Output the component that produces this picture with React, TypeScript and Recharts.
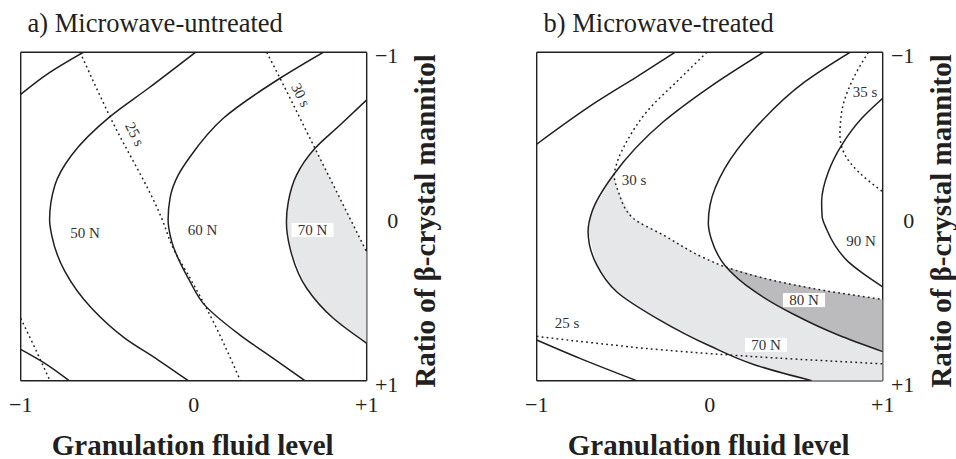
import React from 'react';
import { ComposedChart, XAxis, YAxis, Scatter, Label, Curve } from 'recharts';

type Pt = { x: number; y: number };
type Tag = { x: number; y: number; text: string };

// ---------- a) Microwave-untreated ----------
const untreated40NUpper: Pt[] = [
  { x: -1, y: -0.744 }, { x: -0.84, y: -0.872 }, { x: -0.638, y: -1 },
].reverse();
const untreated40NLower: Pt[] = [
  { x: -1, y: 0.809 }, { x: -0.86, y: 0.894 }, { x: -0.72, y: 1 },
];
const untreated50N: Pt[] = [
  { x: 0.01, y: -1 }, { x: -0.262, y: -0.781 }, { x: -0.484, y: -0.608 }, { x: -0.705, y: -0.375 },
  { x: -0.802, y: -0.192 }, { x: -0.833, y: 0.02 }, { x: -0.821, y: 0.113 }, { x: -0.744, y: 0.336 },
  { x: -0.59, y: 0.559 }, { x: -0.397, y: 0.742 }, { x: -0.205, y: 0.874 }, { x: -0.031, y: 1 },
];
const untreated60N: Pt[] = [
  { x: 0.749, y: -1 }, { x: 0.499, y: -0.842 }, { x: 0.171, y: -0.598 }, { x: -0.021, y: -0.364 },
  { x: -0.089, y: -0.253 }, { x: -0.137, y: -0.111 }, { x: -0.148, y: 0.02 }, { x: -0.127, y: 0.153 },
  { x: -0.021, y: 0.397 }, { x: 0.055, y: 0.529 }, { x: 0.268, y: 0.722 }, { x: 0.46, y: 0.864 },
  { x: 0.643, y: 1 },
];
const untreated70N: Pt[] = [
  { x: 1, y: -0.71 }, { x: 0.846, y: -0.557 }, { x: 0.701, y: -0.415 }, { x: 0.595, y: -0.253 },
  { x: 0.547, y: -0.09 }, { x: 0.536, y: 0.034 }, { x: 0.557, y: 0.194 }, { x: 0.653, y: 0.437 },
  { x: 0.807, y: 0.62 }, { x: 1, y: 0.772 },
];
const untreated20s: Pt[] = [
  { x: -1, y: 0.62 }, { x: -0.917, y: 0.803 }, { x: -0.831, y: 1 },
];
const untreated25s: Pt[] = [
  { x: -0.657, y: -1 }, { x: -0.484, y: -0.608 }, { x: -0.185, y: 0.011 }, { x: -0.118, y: 0.194 },
  { x: -0.021, y: 0.376 }, { x: 0.094, y: 0.6 }, { x: 0.27, y: 1 },
];
const untreated30s: Pt[] = [
  { x: 0.422, y: -1 }, { x: 0.499, y: -0.842 }, { x: 0.701, y: -0.415 }, { x: 0.903, y: 0.011 },
  { x: 1, y: 0.216 },
];
const untreatedLightRegion: Pt[] = [
  { x: 0.701, y: -0.415 }, { x: 0.595, y: -0.253 }, { x: 0.547, y: -0.09 }, { x: 0.536, y: 0.034 },
  { x: 0.557, y: 0.194 }, { x: 0.653, y: 0.437 }, { x: 0.807, y: 0.62 }, { x: 1, y: 0.772 },
  { x: 1, y: 0.216 }, { x: 0.903, y: 0.011 }, { x: 0.701, y: -0.415 },
];
const untreatedTags: Tag[] = [
  { x: -0.628, y: 0.097, text: '50 N' },
  { x: 0.051, y: 0.082, text: '60 N' },
  { x: 0.687, y: 0.082, text: '70 N' },
  { x: -0.339, y: -0.502, text: '25 s' },
  { x: 0.62, y: -0.74, text: '30 s' },
];

// ---------- b) Microwave-treated ----------
const treated60NUpper: Pt[] = [
  { x: -0.201, y: -1 }, { x: -0.422, y: -0.851 }, { x: -0.653, y: -0.699 }, { x: -1, y: -0.44 },
];
const treated60NLower: Pt[] = [
  { x: -1, y: 0.752 }, { x: -0.75, y: 0.864 }, { x: -0.422, y: 1 },
];
const treated70N: Pt[] = [
  { x: 0.31, y: -1 }, { x: 0.002, y: -0.79 }, { x: -0.268, y: -0.577 }, { x: -0.557, y: -0.253 },
  { x: -0.68, y: -0.03 }, { x: -0.703, y: 0.09 }, { x: -0.653, y: 0.295 }, { x: -0.538, y: 0.458 },
  { x: -0.306, y: 0.62 }, { x: 0.002, y: 0.789 }, { x: 0.262, y: 0.904 }, { x: 0.59, y: 1 },
];
const treated80N: Pt[] = [
  { x: 0.811, y: -1 }, { x: 0.551, y: -0.821 }, { x: 0.262, y: -0.537 }, { x: 0.088, y: -0.294 },
  { x: 0.002, y: -0.07 }, { x: -0.008, y: 0.04 }, { x: 0.01, y: 0.14 }, { x: 0.088, y: 0.298 },
  { x: 0.262, y: 0.458 }, { x: 0.493, y: 0.6 }, { x: 0.743, y: 0.722 }, { x: 1, y: 0.823 },
];
const treated90N: Pt[] = [
  { x: 1, y: -0.72 }, { x: 0.879, y: -0.598 }, { x: 0.763, y: -0.435 }, { x: 0.686, y: -0.273 },
  { x: 0.647, y: -0.09 }, { x: 0.65, y: 0.0 }, { x: 0.675, y: 0.076 }, { x: 0.723, y: 0.174 },
  { x: 0.8, y: 0.275 }, { x: 0.898, y: 0.356 }, { x: 1, y: 0.429 },
];
const treated25s: Pt[] = [
  { x: -1, y: 0.73 }, { x: -0.653, y: 0.772 }, { x: -0.268, y: 0.813 }, { x: 0.358, y: 0.86 },
  { x: 1, y: 0.897 },
];
const treated30s: Pt[] = [
  { x: -0.016, y: -1 }, { x: -0.191, y: -0.821 }, { x: -0.364, y: -0.638 }, { x: -0.48, y: -0.456 },
  { x: -0.535, y: -0.33 }, { x: -0.552, y: -0.25 }, { x: -0.528, y: -0.151 }, { x: -0.442, y: 0.011 },
  { x: -0.268, y: 0.113 }, { x: -0.027, y: 0.255 }, { x: 0.088, y: 0.306 }, { x: 0.358, y: 0.387 },
  { x: 0.647, y: 0.448 }, { x: 1, y: 0.505 },
];
const treated35s: Pt[] = [
  { x: 0.917, y: -1 }, { x: 0.821, y: -0.821 }, { x: 0.763, y: -0.638 }, { x: 0.753, y: -0.496 },
  { x: 0.782, y: -0.375 }, { x: 0.859, y: -0.273 }, { x: 1, y: -0.151 },
];
const treatedLightRegion: Pt[] = [
  { x: -0.552, y: -0.25 }, { x: -0.528, y: -0.151 }, { x: -0.442, y: 0.011 }, { x: -0.268, y: 0.113 },
  { x: -0.027, y: 0.255 }, { x: 0.088, y: 0.306 }, { x: 0.262, y: 0.458 }, { x: 0.493, y: 0.6 },
  { x: 0.743, y: 0.722 }, { x: 1, y: 0.823 }, { x: 1, y: 1 }, { x: 0.59, y: 1 },
  { x: 0.262, y: 0.904 }, { x: 0.002, y: 0.789 }, { x: -0.306, y: 0.62 }, { x: -0.538, y: 0.458 },
  { x: -0.653, y: 0.295 }, { x: -0.703, y: 0.09 }, { x: -0.68, y: -0.03 }, { x: -0.557, y: -0.253 },
];
const treatedDarkRegion: Pt[] = [
  { x: 0.088, y: 0.306 }, { x: 0.358, y: 0.387 }, { x: 0.647, y: 0.448 }, { x: 1, y: 0.505 },
  { x: 1, y: 0.823 }, { x: 0.743, y: 0.722 }, { x: 0.493, y: 0.6 }, { x: 0.262, y: 0.458 },
  { x: 0.088, y: 0.306 },
];
const treatedTags: Tag[] = [
  { x: -0.438, y: -0.222, text: '30 s' },
  { x: 0.898, y: -0.76, text: '35 s' },
  { x: 0.875, y: 0.149, text: '90 N' },
  { x: 0.545, y: 0.509, text: '80 N' },
  { x: 0.325, y: 0.783, text: '70 N' },
  { x: -0.825, y: 0.646, text: '25 s' },
];

// ---------- axes ----------
const outerTicks = [-1, 0, 1];
const innerTicks = [-0.5, 0, 0.5];
const tickText: Record<string, string> = { '-1': '\u22121', '0': '0', '1': '+1' };
const xAxisTitle = 'Granulation fluid level';
const yAxisTitle = 'Ratio of \u03b2-crystal mannitol';

// ---------- styles ----------
const FONT = '"Liberation Serif", "Times New Roman", Times, serif';
const INK = '#231f20';
const LIGHT = '#e6e7e9';
const DARK = '#bbbbbd';
const boxedTags = ['a:70 N', 'b:80 N', 'b:70 N'];
const tagAngles: Record<string, number> = { 'a:25 s': 63, 'a:30 s': 63 };

const PLOT_LEFT = 20.7;
const PLOT_TOP = 52.3;
const PLOT_W = 346;
const PLOT_H = 328.4;
const Y_AXIS_W = 60;
const X_AXIS_H = 40;
const CHART_H = 459;

type PanelCfg = {
  key: string;
  title: string;
  lights: Pt[][];
  darks: Pt[][];
  solids: Pt[][];
  dotted: Pt[][];
  tags: Tag[];
};

const panels: PanelCfg[] = [
  {
    key: 'a',
    title: 'a) Microwave-untreated',
    lights: [untreatedLightRegion],
    darks: [],
    solids: [untreated40NUpper, untreated40NLower, untreated50N, untreated60N, untreated70N],
    dotted: [untreated20s, untreated25s, untreated30s],
    tags: untreatedTags,
  },
  {
    key: 'b',
    title: 'b) Microwave-treated',
    lights: [treatedLightRegion],
    darks: [treatedDarkRegion],
    solids: [treated60NUpper, treated60NLower, treated70N, treated80N, treated90N],
    dotted: [treated25s, treated30s, treated35s],
    tags: treatedTags,
  },
];

const EmptyShape = () => <g />;

// Contour lines are single-valued in y, so a monotone spline along y keeps them smooth.
const sortByPixelY = (pts: any[]) => [...pts].sort((a, b) => a.y - b.y);

const fillLine = (color: string) => (p: any) => (
  <Curve points={p.points} type="linear" fill={color} stroke="none" />
);
const solidLine = (p: any) => (
  <Curve points={sortByPixelY(p.points)} type="monotoneY" fill="none" stroke={INK} strokeWidth={1.5} />
);
const dottedLine = (p: any) => (
  <Curve
    points={sortByPixelY(p.points)}
    type="monotoneY"
    fill="none"
    stroke={INK}
    strokeWidth={1.5}
    strokeDasharray="1.8 3.2"
  />
);

const renderXTick = (props: any) => {
  const { x, y, payload } = props;
  return (
    <text x={x} y={y + 31.3} textAnchor="middle" fontFamily={FONT} fontSize={22} fill={INK}>
      {tickText[String(payload.value)]}
    </text>
  );
};

const renderYTick = (props: any) => {
  const { x, y, payload } = props;
  return (
    <text x={x + 31.6} y={y + 11} textAnchor="end" fontFamily={FONT} fontSize={22} fill={INK}>
      {tickText[String(payload.value)]}
    </text>
  );
};

const makeXLabel = (title: string) => (props: any) => {
  const vb = props.viewBox || {};
  return (
    <g>
      <text
        x={vb.x + vb.width / 2 - 1}
        y={vb.y + 73.8}
        textAnchor="middle"
        fontFamily={FONT}
        fontWeight="bold"
        fontSize={29}
        fill={INK}
      >
        {xAxisTitle}
      </text>
      <text x={vb.x + 6.8} y={vb.y - PLOT_H - 20} fontFamily={FONT} fontSize={26.5} fill={INK}>
        {title}
      </text>
    </g>
  );
};

const renderYLabel = (props: any) => {
  const vb = props.viewBox || {};
  const cx = vb.x + 68.3;
  const cy = vb.y + vb.height / 2 + 4.5;
  return (
    <text
      x={cx}
      y={cy}
      transform={`rotate(-90 ${cx} ${cy})`}
      textAnchor="middle"
      fontFamily={FONT}
      fontWeight="bold"
      fontSize={29}
      fill={INK}
    >
      {yAxisTitle}
    </text>
  );
};

const makeTagShape = (panelKey: string) => (props: any) => {
  const { cx, cy, payload } = props;
  const id = `${panelKey}:${payload.text}`;
  const angle = tagAngles[id] ?? 0;
  const boxed = boxedTags.includes(id);
  return (
    <g transform={`rotate(${angle} ${cx} ${cy})`}>
      {boxed && <rect x={cx - 21} y={cy - 7} width={42} height={14} fill="#ffffff" />}
      <text x={cx} y={cy} dy="0.35em" textAnchor="middle" fontFamily={FONT} fontSize={15} fill="#333">
        {payload.text}
      </text>
    </g>
  );
};

function ContourPanel({ cfg, width }: { cfg: PanelCfg; width: number }) {
  const marginRight = width - PLOT_LEFT - PLOT_W - Y_AXIS_W;
  const marginBottom = CHART_H - PLOT_TOP - PLOT_H - X_AXIS_H;
  const frame = { stroke: INK, strokeWidth: 1.4 };
  const tickStyle = { stroke: INK, strokeWidth: 1.3 };
  return (
    <ComposedChart
      width={width}
      height={CHART_H}
      margin={{ top: PLOT_TOP, left: PLOT_LEFT, right: marginRight, bottom: marginBottom }}
    >
      <XAxis
        xAxisId={0}
        type="number"
        dataKey="x"
        domain={[-1, 1]}
        allowDataOverflow
        ticks={outerTicks}
        interval={0}
        height={X_AXIS_H}
        tickLine={false}
        tickSize={0}
        tickMargin={0}
        axisLine={frame}
        tick={renderXTick}
      >
        <Label content={makeXLabel(cfg.title)} />
      </XAxis>
      <XAxis
        xAxisId="bottomInner"
        type="number"
        dataKey="x"
        domain={[-1, 1]}
        allowDataOverflow
        ticks={innerTicks}
        interval={0}
        orientation="bottom"
        mirror
        tick={false}
        tickSize={9}
        tickLine={tickStyle}
        axisLine={false}
      />
      <XAxis
        xAxisId="topInner"
        type="number"
        dataKey="x"
        domain={[-1, 1]}
        allowDataOverflow
        ticks={innerTicks}
        interval={0}
        orientation="top"
        mirror
        tick={false}
        tickSize={9}
        tickLine={tickStyle}
        axisLine={frame}
      />
      <YAxis
        yAxisId={0}
        type="number"
        dataKey="y"
        domain={[-1, 1]}
        reversed
        allowDataOverflow
        orientation="right"
        width={Y_AXIS_W}
        ticks={outerTicks}
        interval={0}
        tickLine={false}
        tickSize={0}
        tickMargin={0}
        axisLine={frame}
        tick={renderYTick}
      >
        <Label content={renderYLabel} />
      </YAxis>
      <YAxis
        yAxisId="leftInner"
        type="number"
        dataKey="y"
        domain={[-1, 1]}
        reversed
        allowDataOverflow
        orientation="left"
        mirror
        ticks={innerTicks}
        interval={0}
        tick={false}
        tickSize={9}
        tickLine={tickStyle}
        axisLine={frame}
      />
      <YAxis
        yAxisId="rightInner"
        type="number"
        dataKey="y"
        domain={[-1, 1]}
        reversed
        allowDataOverflow
        orientation="right"
        mirror
        ticks={innerTicks}
        interval={0}
        tick={false}
        tickSize={9}
        tickLine={tickStyle}
        axisLine={false}
      />
      {cfg.lights.map((d, i) => (
        <Scatter
          key={`light-${i}`}
          data={d}
          dataKey="y"
          isAnimationActive={false}
          shape={EmptyShape}
          line={fillLine(LIGHT)}
          lineType="joint"
        />
      ))}
      {cfg.darks.map((d, i) => (
        <Scatter
          key={`dark-${i}`}
          data={d}
          dataKey="y"
          isAnimationActive={false}
          shape={EmptyShape}
          line={fillLine(DARK)}
          lineType="joint"
        />
      ))}
      {cfg.dotted.map((d, i) => (
        <Scatter
          key={`dot-${i}`}
          data={d}
          dataKey="y"
          isAnimationActive={false}
          shape={EmptyShape}
          line={dottedLine}
          lineType="joint"
        />
      ))}
      {cfg.solids.map((d, i) => (
        <Scatter
          key={`solid-${i}`}
          data={d}
          dataKey="y"
          isAnimationActive={false}
          shape={EmptyShape}
          line={solidLine}
          lineType="joint"
        />
      ))}
      <Scatter
        data={cfg.tags}
        dataKey="y"
        isAnimationActive={false}
        shape={makeTagShape(cfg.key)}
      />
    </ComposedChart>
  );
}

export default function App() {
  return (
    <div
      style={{
        position: 'absolute',
        left: 0,
        top: 0,
        width: 956,
        height: 459,
        overflow: 'hidden',
        background: '#ffffff',
      }}
    >
      <div style={{ position: 'absolute', left: 0, top: 0 }}>
        <ContourPanel cfg={panels[0]} width={478} />
      </div>
      <div style={{ position: 'absolute', left: 516, top: 0 }}>
        <ContourPanel cfg={panels[1]} width={440} />
      </div>
    </div>
  );
}
